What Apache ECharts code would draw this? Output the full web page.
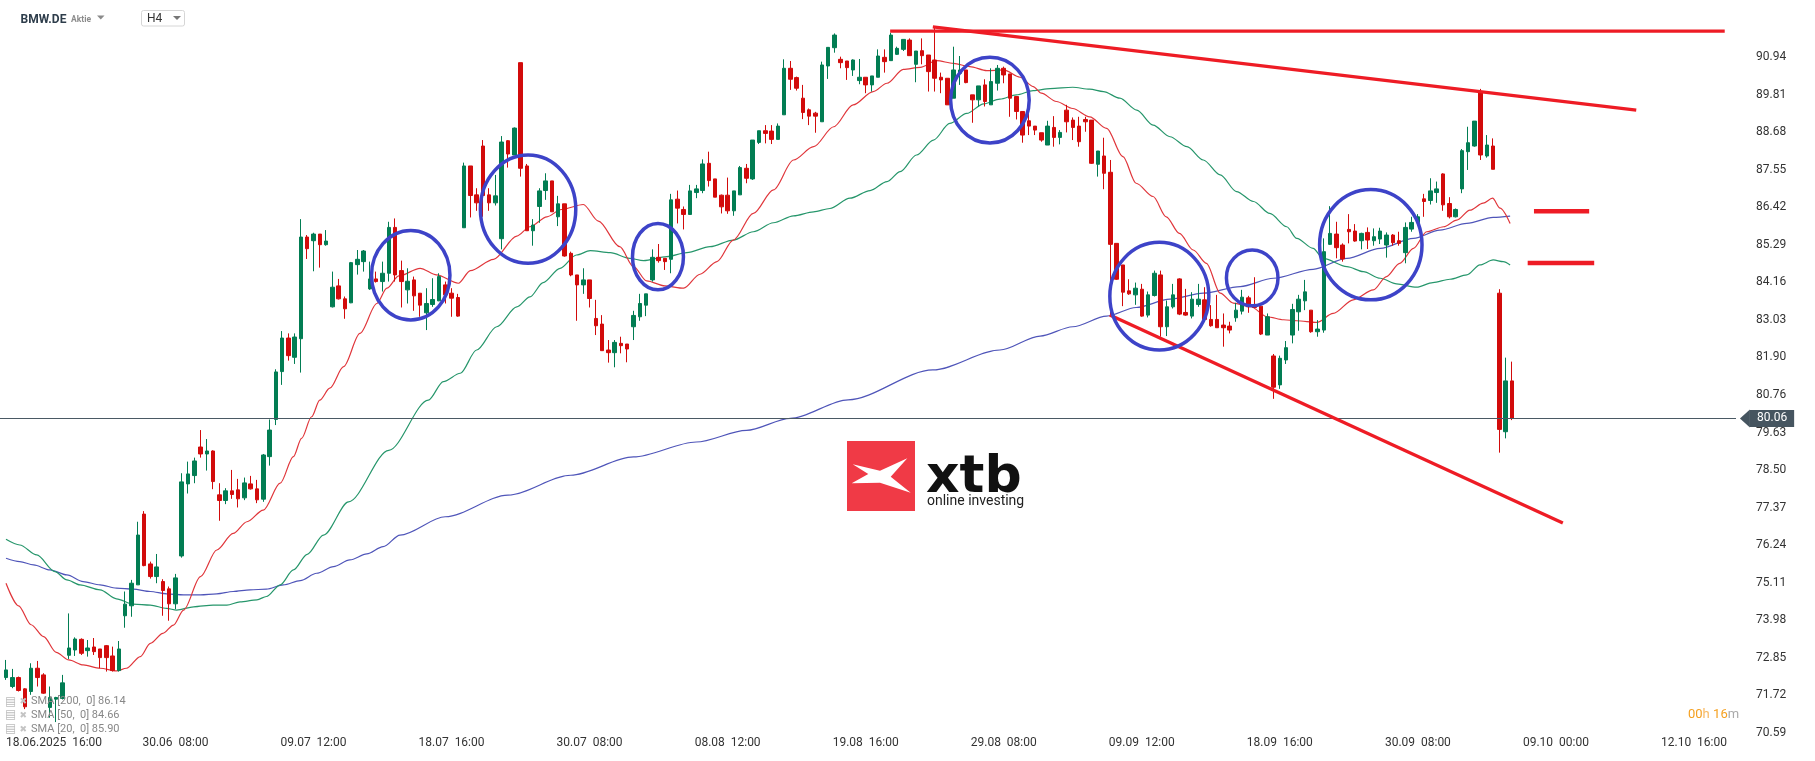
<!DOCTYPE html>
<html><head><meta charset="utf-8">
<script src="https://cdn.jsdelivr.net/npm/echarts@6/dist/echarts.min.js"></script>
<style>html,body{margin:0;padding:0;background:#fff}#c{width:1815px;height:761px}</style>
</head><body><div id="c"></div>
<script>
// ---------- DATA (H4 candles, bar index 0..240) ----------
const opens = [
72.26,71.99,72.26,71.92,71.84,72.54,72.34,71.36,71.61,71.63,
72.93,73.09,73.41,73.07,73.18,73.12,73.22,72.91,72.47,74.12,
74.42,75.05,77.18,75.68,75.30,75.15,74.93,74.48,75.92,78.09,
78.34,79.20,78.99,79.08,77.76,77.59,77.88,77.91,77.67,78.09,
77.94,77.63,78.91,80.03,81.47,82.48,81.90,82.46,85.52,85.41,
85.61,85.29,83.42,84.05,83.66,83.54,84.69,84.78,83.96,84.26,
84.18,84.43,85.81,84.51,83.93,84.23,83.83,83.24,83.49,83.60,
84.08,83.83,83.70,85.80,87.66,86.79,88.26,86.79,86.55,85.47,
88.42,87.99,90.77,87.66,85.71,86.44,86.92,87.21,86.13,86.52,
85.03,84.38,84.08,84.23,83.07,82.90,82.12,82.04,82.32,82.30,
82.82,83.12,83.47,84.23,84.91,84.88,84.85,86.66,86.35,86.20,
86.86,86.92,87.74,87.27,86.78,86.78,86.31,86.79,87.59,87.27,
88.37,88.72,88.71,88.46,89.20,90.60,90.32,89.70,89.35,89.25,
88.99,90.67,91.22,90.87,90.82,90.55,90.23,90.33,90.10,90.33,
90.93,90.83,91.02,91.17,91.45,90.72,91.13,91.00,90.85,90.33,
90.30,89.70,90.45,90.55,89.80,89.65,90.10,89.50,90.15,90.60,
90.43,89.75,89.30,89.02,88.86,88.66,88.29,88.82,88.52,89.34,
89.04,88.86,89.06,89.04,87.71,87.96,87.47,85.33,84.68,83.90,
83.78,83.95,83.17,83.76,84.38,82.82,83.42,84.26,83.25,83.14,
83.49,83.63,83.04,83.04,82.87,82.84,83.09,83.29,83.69,83.47,
83.44,82.57,81.94,81.07,81.82,82.57,83.27,83.60,83.32,82.67,
82.72,85.30,85.61,85.28,85.75,85.70,85.41,85.66,85.41,85.46,
85.28,85.58,85.41,85.05,85.76,85.95,86.67,86.62,86.86,87.42,
86.53,86.13,86.97,88.09,88.26,89.88,87.96,88.26,83.83,79.66,
81.19];
const closes = [
72.49,72.26,71.87,71.38,72.54,72.26,71.79,71.66,71.66,72.10,
73.15,73.42,72.99,73.15,73.04,72.86,72.86,72.47,73.12,74.47,
75.10,76.55,75.63,75.30,75.59,74.88,74.48,75.26,78.15,78.39,
78.78,78.99,79.08,78.16,77.59,77.88,77.77,77.64,78.12,77.94,
77.61,78.96,79.71,81.46,82.48,81.95,82.51,85.52,85.17,85.61,
85.29,85.40,84.01,83.66,83.36,84.75,84.85,85.10,84.26,84.18,
84.43,85.81,84.38,84.18,84.19,83.75,83.47,83.52,83.64,84.33,
83.78,83.68,83.14,87.66,86.77,86.55,86.77,86.55,86.76,88.38,
88.02,88.80,87.59,85.71,85.88,86.91,87.21,86.28,86.52,84.95,
84.38,84.08,84.23,83.67,82.85,82.10,82.04,82.35,82.25,82.15,
83.16,83.52,83.81,84.91,84.81,84.78,86.64,86.39,86.20,86.91,
86.97,87.72,87.22,86.72,86.43,86.31,86.91,87.61,87.29,88.44,
88.72,88.64,88.46,88.86,90.60,90.27,90.00,89.27,89.16,89.16,
90.70,91.23,91.60,90.77,90.62,90.85,90.33,90.10,90.37,90.97,
90.80,91.60,91.20,91.47,90.98,91.12,90.98,90.50,90.30,90.25,
89.50,90.55,90.55,90.17,89.65,90.07,89.60,90.20,90.60,90.40,
89.70,89.30,88.59,88.86,88.74,88.44,88.86,88.52,88.67,88.99,
88.82,88.39,88.99,87.74,88.11,87.44,85.30,84.25,83.86,83.81,
83.98,83.14,83.78,84.43,82.82,83.42,83.78,83.20,83.17,83.65,
83.65,83.04,82.85,82.79,82.79,82.72,83.32,83.71,83.42,83.40,
82.60,83.12,81.00,81.87,82.19,83.34,83.65,83.87,82.67,82.75,
85.08,85.63,85.20,84.86,85.68,85.40,85.63,85.43,85.53,85.70,
85.58,85.35,85.33,85.81,85.96,86.13,86.59,86.91,86.97,86.49,
86.13,86.35,88.12,88.36,89.01,87.99,88.29,87.56,79.73,81.19,
80.06];
const lows = [
72.19,71.94,71.84,71.31,71.74,71.99,71.77,71.05,70.92,71.60,
72.82,72.91,72.94,72.89,72.94,72.54,72.44,72.44,72.44,73.76,
74.09,75.05,75.61,75.24,75.10,74.12,73.97,74.32,75.87,77.80,
78.11,78.88,78.49,77.93,76.98,77.48,77.64,77.38,77.60,77.92,
77.51,77.55,78.64,79.86,81.07,81.80,81.70,81.44,84.86,84.49,
84.60,85.26,83.40,83.64,83.06,83.53,84.39,84.48,83.93,84.15,
83.88,84.18,84.18,83.40,83.52,83.30,83.12,82.72,83.42,83.59,
83.52,83.12,83.12,85.80,86.11,86.31,86.13,86.31,86.47,85.15,
87.61,87.99,87.34,85.71,85.26,85.95,86.64,86.28,85.85,84.93,
84.34,83.00,83.81,83.40,82.57,82.10,81.74,81.60,82.02,81.75,
82.42,83.00,83.14,84.18,84.75,84.53,84.43,85.93,85.75,86.20,
86.69,86.84,87.04,86.72,86.23,86.22,86.16,86.79,87.14,87.24,
88.32,88.34,88.32,88.46,89.20,89.95,89.93,89.07,88.89,88.66,
88.99,90.28,91.07,90.60,90.25,90.37,90.12,89.85,89.90,90.33,
90.47,90.83,91.00,91.12,90.98,90.18,90.72,89.90,89.90,89.85,
89.50,89.70,90.10,90.15,88.96,89.45,89.45,89.50,89.93,90.15,
89.14,89.06,88.36,88.59,88.59,88.39,88.29,88.24,88.31,88.67,
88.44,88.24,88.69,87.72,87.34,86.96,83.12,84.23,83.44,83.78,
83.48,83.12,83.10,83.73,82.52,82.54,83.37,83.17,83.15,83.07,
83.42,83.00,82.82,82.79,82.22,82.62,82.97,83.19,83.24,83.40,
82.57,82.57,80.65,80.95,81.70,82.32,82.70,83.32,82.64,82.52,
82.64,85.28,84.88,84.78,85.33,85.38,85.15,85.16,85.26,85.31,
84.90,85.26,85.26,84.73,85.68,85.93,86.13,86.50,86.55,86.31,
86.08,86.11,86.84,87.54,88.24,87.84,87.91,87.56,79.03,79.46,
80.01];
const highs = [
72.79,72.52,72.29,71.94,72.69,72.76,72.39,71.99,71.68,72.34,
74.19,73.47,73.44,73.39,73.45,73.12,73.24,73.19,73.36,74.85,
75.20,76.95,77.27,75.75,75.98,75.22,75.00,75.38,78.41,78.76,
78.88,79.71,79.44,79.10,78.11,77.96,78.51,78.24,78.28,78.33,
78.21,78.99,80.03,81.54,82.69,82.62,82.62,86.06,85.58,85.65,
85.61,85.73,84.48,84.26,83.73,84.77,85.13,85.13,84.78,84.48,
84.78,85.98,86.08,84.81,84.58,84.33,83.83,83.98,84.28,84.43,
84.18,83.98,83.81,87.76,87.66,86.99,88.44,86.99,87.39,88.56,
88.44,88.82,90.77,87.72,86.06,86.99,87.44,87.21,86.76,86.52,
85.08,84.38,84.58,84.23,83.63,83.17,82.42,82.42,82.52,82.30,
83.30,83.81,83.81,85.15,85.31,84.88,86.82,86.92,86.44,87.09,
87.09,87.86,88.09,87.27,86.80,87.31,86.91,87.66,87.72,88.44,
88.72,88.89,88.89,88.94,90.87,90.82,90.35,90.10,89.39,89.29,
90.80,91.23,91.65,90.95,90.82,90.87,90.88,90.33,90.37,91.17,
91.17,91.67,91.25,91.47,91.50,91.12,91.50,91.00,91.87,90.47,
90.30,91.25,90.97,90.55,89.80,90.07,90.27,90.60,90.70,90.65,
90.43,89.75,89.30,89.39,88.86,88.66,89.02,89.16,88.74,89.50,
89.12,89.14,89.14,89.04,88.11,88.51,87.84,85.33,84.68,84.25,
84.15,84.11,83.88,84.51,84.51,83.61,84.11,84.28,83.96,83.86,
84.11,84.01,83.47,83.78,83.22,82.97,83.54,83.93,83.75,84.31,
83.47,83.22,82.00,81.95,82.39,83.51,83.78,84.23,83.32,83.02,
85.48,86.45,85.98,85.33,86.21,85.91,85.65,85.81,85.78,85.80,
85.66,85.61,85.68,85.96,86.13,86.21,86.82,87.29,87.19,87.44,
86.72,86.38,88.17,88.84,89.01,89.98,88.59,88.49,83.95,81.89,
81.77];

// moving averages: [bar index, value]
const sma20 = [[0,75.10],[2,74.42],[4,73.85],[6,73.49],[8,73.02],[10,72.79],[12.3,72.64],[15,72.54],[17.6,72.46],[19.2,72.54],[21.4,72.89],[23,73.29],[25,73.59],[26.7,73.84],[28.3,74.29],[31,75.30],[33.6,76.10],[36.2,76.60],[38.4,76.95],[41,77.30],[43.7,78.11],[45.8,78.91],[47.1,79.46],[48.7,80.11],[50,80.61],[51.6,80.97],[53.8,81.62],[56.4,82.62],[59.1,83.52],[60.7,83.98],[62.6,84.35],[66,84.58],[68.6,84.38],[72.1,84.13],[74,84.51],[77.7,84.85],[81.4,85.55],[83.5,85.83],[86.2,86.13],[88.5,86.35],[92,86.50],[94.4,86.0],[97.8,85.23],[100,84.63],[102.1,84.20],[105,84.05],[108,83.98],[110.6,84.40],[113.3,84.78],[115.9,85.43],[119.1,86.23],[122.3,86.94],[125.5,87.84],[128.7,88.24],[131.9,88.84],[135,89.50],[138.2,89.90],[140.4,90.15],[143,90.57],[145.7,90.63],[148.3,90.83],[151,90.75],[153.6,90.65],[156.3,90.53],[159,90.55],[161.6,90.33],[163.7,90.05],[165,89.85],[167.4,89.60],[170,89.39],[172.7,89.14],[175.4,88.79],[178,87.94],[180.1,87.14],[182.8,86.74],[184.9,86.13],[187,85.63],[189.2,85.13],[191.3,84.73],[193.5,83.83],[195.6,83.53],[198.3,83.43],[201,83.12],[203.6,83.03],[205.7,83.0],[208.9,82.95],[211.5,83.22],[214.7,83.63],[217.9,83.93],[220,84.33],[222.1,84.73],[224.3,85.18],[226.4,85.68],[229.1,85.83],[231.2,86.03],[233.3,86.33],[235.4,86.54],[236.9,86.69],[238.1,86.39],[239.7,85.93]];
const sma50 = [[0,76.42],[2.2,76.25],[4.9,75.95],[7.8,75.45],[9.7,75.20],[11.8,75.05],[15,74.90],[17.6,74.63],[20.3,74.47],[23,74.44],[25.6,74.34],[27.2,74.29],[29.9,74.39],[33,74.44],[35.2,74.44],[37.3,74.54],[40,74.60],[41.5,74.70],[43.7,75.05],[45.8,75.50],[48,75.97],[50.6,76.55],[54.6,77.55],[61,79.1],[67.3,80.61],[69.7,81.17],[72.4,81.42],[75,82.12],[78.2,82.82],[81.4,83.42],[83.5,83.72],[85.6,84.15],[88.3,84.58],[90.9,84.98],[93.1,85.11],[96.3,85.05],[99.4,84.88],[101.6,84.81],[105.3,84.93],[108.5,85.05],[112.2,85.23],[115.9,85.43],[119.1,85.68],[122.3,85.95],[125.5,86.16],[128.7,86.28],[131.3,86.38],[134.5,86.69],[137.7,86.92],[140.4,87.19],[142.5,87.49],[145.1,87.99],[147.8,88.44],[150.4,88.94],[153.1,89.24],[155.8,89.53],[158.4,89.67],[161,89.80],[163.7,89.93],[166.4,89.99],[170,90.03],[172.7,89.97],[174.9,89.90],[177.5,89.70],[180.2,89.34],[182.8,88.89],[185.5,88.54],[188.2,88.24],[190.8,87.84],[193.5,87.39],[196.1,86.89],[198.8,86.59],[201.4,86.23],[204.1,85.83],[205.7,85.48],[208.3,85.18],[209.9,84.88],[213.7,84.63],[216.3,84.48],[219,84.28],[221.6,84.11],[224.8,84.01],[227.4,84.15],[230.1,84.25],[232.8,84.38],[234.9,84.68],[237,84.83],[238.6,84.78],[239.7,84.68]];
const sma200 = [[0,75.85],[2.2,75.75],[4.4,75.65],[7,75.50],[9.7,75.35],[12.3,75.15],[15,75.05],[17.6,74.95],[20.3,74.92],[23,74.85],[25.6,74.78],[28.3,74.75],[31,74.75],[33.6,74.78],[36.2,74.85],[38.9,74.90],[41.5,74.92],[44.2,75.05],[46.9,75.18],[49.5,75.40],[52.2,75.60],[54.8,75.80],[57.5,75.98],[60.1,76.20],[62.8,76.55],[70,77.1],[80,77.75],[90,78.35],[100,78.9],[110,79.35],[118,79.7],[125,80.06],[134.2,80.62],[147.7,81.52],[158.4,82.12],[164.8,82.54],[170,82.82],[175.4,83.14],[180.1,83.40],[185.5,83.65],[190.8,83.83],[196.7,84.03],[202,84.28],[208.3,84.55],[213.7,84.88],[219,85.18],[224.3,85.48],[228.5,85.73],[232.8,85.93],[237,86.11],[239.7,86.15]];

const priceTicks = [70.59,71.72,72.85,73.98,75.11,76.24,77.37,78.50,79.63,80.76,81.90,83.03,84.16,85.29,86.42,87.55,88.68,89.81,90.94];
const timeTickPos = [7.65,27,49,71,93,115,137,159,181,203,225,247,269];
const timeTickLabels = ['18.06.2025  16:00','30.06  08:00','09.07  12:00','18.07  16:00','30.07  08:00','08.08  12:00','19.08  16:00','29.08  08:00','09.09  12:00','18.09  16:00','30.09  08:00','09.10  00:00','12.10  16:00'];
const lastPrice = 80.06;
const legendRows = ['SMA [200,  0] 86.14','SMA [50,  0] 84.66','SMA [20,  0] 85.90'];

// drawn annotations in data units: [[bar, price], [bar, price]]
const trendLines = [[[140.9,91.72],[273.9,91.72]],[[147.7,91.85],[259.8,89.34]],[[175.9,83.17],[248.1,76.91]]];
const levelLines = [[[243.5,86.30],[252.3,86.30]],[[242.5,84.74],[253.1,84.74]]];
// ellipses: [center bar, center price, radius in bars, radius in price]
const circles = [[64.5,84.37,6.25,1.345],[83.2,86.36,7.6,1.63],[103.9,84.93,4.06,1.0],[156.8,89.64,6.26,1.29],[183.8,83.74,7.89,1.62],[198.6,84.29,4.11,0.84],[217.5,85.29,8.16,1.66]];

// ---------- LAYOUT ----------
const UP = '#027d53', DOWN = '#d20b0b', TREND = '#ee1c25', RING = '#3d43c8';
const BAR_PX = 6.275, PLOT_W = 1736, PLOT_H = 740, PX_PER_UNIT = 33.22;
const xMin = -6 / BAR_PX, xMax = xMin + PLOT_W / BAR_PX;
const yMax = 90.94 + 57 / PX_PER_UNIT, yMin = yMax - PLOT_H / PX_PER_UNIT;

const chart = echarts.init(document.getElementById('c'), null, {renderer: 'canvas'});

const series = [
  {type:'line', data:sma200, showSymbol:false, smooth:0.3, smoothMonotone:'x', silent:true, z:2, lineStyle:{color:'#4f55b9', width:1.2}},
  {type:'line', data:sma50, showSymbol:false, smooth:0.3, smoothMonotone:'x', silent:true, z:2, lineStyle:{color:'#26966b', width:1.2}},
  {type:'line', data:sma20, showSymbol:false, smooth:0.3, smoothMonotone:'x', silent:true, z:2, lineStyle:{color:'#e0363b', width:1.2}},
  {
    type:'candlestick', z:3, barWidth:4,
    data: opens.map((o,i) => [i, o, closes[i], lows[i], highs[i]]),
    encode:{x:0, y:[1,2,3,4]},
    itemStyle:{color:UP, color0:DOWN, borderColor:UP, borderColor0:DOWN, borderWidth:1},
    markLine:{
      symbol:'none', silent:true, animation:false,
      lineStyle:{color:'#4a5964', width:1, type:'solid'},
      label:{show:true, position:'end', distance:14, formatter: () => lastPrice.toFixed(2), color:'#fff', backgroundColor:'#465560', padding:[3,7,2,7], fontSize:12, fontFamily:'Roboto'},
      data:[{yAxis:lastPrice}]
    },
    markPoint:{
      silent:true, animation:false,
      data:[{coord:[xMax-0.01, lastPrice], symbol:'triangle', symbolSize:[18,10], symbolRotate:90, symbolOffset:[9,0], itemStyle:{color:'#465560'}, label:{show:false}}]
    }
  }
];
trendLines.forEach(p => series.push({type:'line', data:p, showSymbol:false, silent:true, z:5, lineStyle:{color:TREND, width:3.3}}));
levelLines.forEach(p => series.push({type:'line', data:p, showSymbol:false, silent:true, z:5, lineStyle:{color:TREND, width:4.5}}));
series.push({
  type:'custom', data:circles, encode:{x:0, y:1}, z:6, silent:true,
  renderItem:(params, api) => {
    const c = api.coord([api.value(0), api.value(1)]);
    const s = api.size([api.value(2), api.value(3)]);
    return {type:'ellipse', shape:{cx:c[0], cy:c[1], rx:s[0], ry:s[1]}, style:{fill:'none', stroke:RING, lineWidth:3.5}};
  }
});

const legendY = [701.7, 715.2, 729.2];
const graphic = [
  {type:'text', x:20.5, y:19.5, z:10, style:{text:'BMW.DE', font:'bold 12px Roboto', fill:'#2e3d4b', verticalAlign:'middle'}},
  {type:'text', x:71, y:20, z:10, style:{text:'Aktie', font:'bold 8.5px Roboto', fill:'#8c8c8c', verticalAlign:'middle'}},
  {type:'polygon', z:10, shape:{points:[[97,15.5],[104.5,15.5],[100.75,19.5]]}, style:{fill:'#8a8a8a'}},
  {type:'rect', z:10, shape:{x:141.5, y:10.5, width:43, height:15.5, r:2}, style:{fill:'#fff', stroke:'#d6d6d6', lineWidth:1}},
  {type:'text', x:147, y:19, z:11, style:{text:'H4', font:'12px Roboto', fill:'#333', verticalAlign:'middle'}},
  {type:'polygon', z:11, shape:{points:[[173,16],[181,16],[177,20]]}, style:{fill:'#777'}},
  // logo
  {type:'rect', z:1, shape:{x:847, y:441, width:68, height:70}, style:{fill:'#f03a46'}},
  {type:'polygon', z:1, shape:{points:[[852.7,464.3],[880,470.7],[907.3,458.3],[890.7,476.7],[910.7,492.7],[880,482.7],[851.7,483.3],[868.3,474]]}, style:{fill:'#fff'}},
  {type:'text', x:926, y:478, z:1, style:{text:'xtb', font:'bold 52px "DejaVu Sans"', fill:'#111', verticalAlign:'middle'}},
  {type:'text', x:927, y:501.5, z:1, style:{text:'online investing', font:'14px Roboto', fill:'#222', verticalAlign:'middle'}},
  // timer
  {type:'text', x:1688, y:715, z:10, style:{text:'{o|00}{p|h} {o|16}{g|m}', verticalAlign:'middle', rich:{o:{fill:'#f5a020', font:'13px Roboto'}, p:{fill:'#f7b860', font:'13px Roboto'}, g:{fill:'#aaa', font:'13px Roboto'}}}}
];
legendRows.forEach((t, k) => {
  graphic.push({type:'text', x:5, y:legendY[k], z:10, style:{text:'▤', font:'12px "DejaVu Sans"', fill:'#bdbdbd', verticalAlign:'middle'}});
  graphic.push({type:'text', x:19.5, y:legendY[k], z:10, style:{text:'✖', font:'9px "DejaVu Sans"', fill:'#c4c4c4', verticalAlign:'middle'}});
  graphic.push({type:'text', x:31, y:legendY[k], z:10, style:{text:t, font:'11px Roboto', fill:'#888', verticalAlign:'middle'}});
});

chart.setOption({
  animation:false,
  backgroundColor:'#fff',
  grid:{left:0, right:1815 - PLOT_W, top:0, height:PLOT_H},
  xAxis:{
    type:'value', min:xMin, max:xMax,
    splitLine:{show:false}, axisLine:{show:false}, axisTick:{show:false},
    axisLabel:{
      customValues: timeTickPos,
      formatter: v => { const k = timeTickPos.findIndex(p => Math.abs(p - v) < 1e-6); return k >= 0 ? timeTickLabels[k] : ''; },
      color:'#333', fontSize:12, fontFamily:'Roboto', margin:-3
    }
  },
  yAxis:{
    type:'value', position:'right', min:yMin, max:yMax,
    splitLine:{show:false}, axisLine:{show:false}, axisTick:{show:false},
    axisLabel:{customValues: priceTicks, formatter: v => v.toFixed(2), color:'#333', fontSize:12, fontFamily:'Roboto', margin:20, align:'left'}
  },
  series: series,
  graphic: graphic
});
</script>
</body></html>
